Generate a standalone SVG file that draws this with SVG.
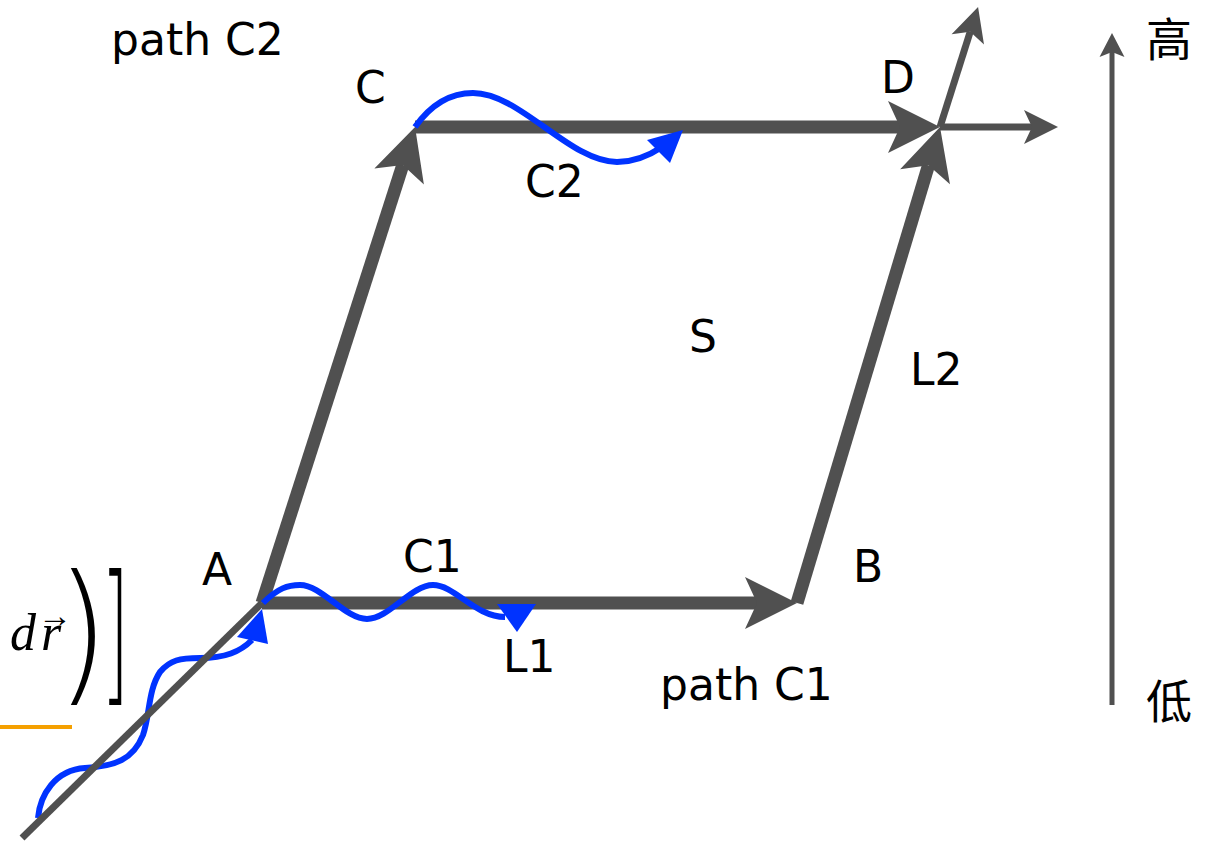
<svg xmlns="http://www.w3.org/2000/svg" width="1219" height="843" viewBox="0 0 1219 843">
<style>
.lbl{font-family:"DejaVu Sans","Liberation Sans",sans-serif;font-size:44px;fill:#000}
.cjk{font-family:"Noto Sans CJK SC","Noto Sans CJK JP",sans-serif;font-size:46px;fill:#000}
.math{font-family:"Liberation Serif",serif;fill:#000}
.delim{font-family:"DejaVu Sans",sans-serif;font-weight:200;fill:#000}
.thick{stroke:#505050;stroke-width:13;fill:none}
.thin{stroke:#505050;stroke-width:7;fill:none}
.wave{stroke:#0033ff;stroke-width:6;fill:none;stroke-linecap:butt}
.bl{fill:#0033ff}
</style>
<defs>
<marker id="ahBig" markerUnits="userSpaceOnUse" markerWidth="60" markerHeight="60" viewBox="-15 -30 60 60" refX="0" refY="0" orient="auto" overflow="visible"><path d="M40,0 L-12,-26 L0,0 L-12,26 Z" fill="#505050"/></marker>
<marker id="ahMid" markerUnits="userSpaceOnUse" markerWidth="40" markerHeight="40" viewBox="-10 -20 40 40" refX="0" refY="0" orient="auto" overflow="visible"><path d="M26,0 L-8,-17 L0,0 L-8,17 Z" fill="#505050"/></marker>
<marker id="ahSm" markerUnits="userSpaceOnUse" markerWidth="30" markerHeight="30" viewBox="-6 -15 30 30" refX="0" refY="0" orient="auto" overflow="visible"><path d="M19,0 L-5,-12.5 L0,0 L-5,12.5 Z" fill="#505050"/></marker>
</defs>

<g id="wave-in">
<path class="wave" d="M38,818 C40,795 55,770 85,768 C115,766 133,760 143,735 C150,715 148,690 160,672 C170,660 180,658 200,658 C225,658 240,652 252,640"/>
<polygon class="bl" points="237,637 268,644 262,609"/>
</g>

<g id="connectors">
<line id="in-line" class="thin" x1="22" y1="838" x2="262" y2="603"/>
<line id="L1" class="thick" x1="262" y1="603" x2="757" y2="603" marker-end="url(#ahBig)"/>
<line id="AC" class="thick" x1="262" y1="603" x2="402.8" y2="165.1" marker-end="url(#ahBig)"/>
<line id="L2" class="thick" x1="797" y1="603" x2="928.5" y2="165.3" marker-end="url(#ahBig)"/>
<line id="CD" class="thick" x1="415" y1="127" x2="900" y2="127" marker-end="url(#ahBig)"/>
<line id="out-up" class="thin" x1="940" y1="127" x2="970.2" y2="31.8" marker-end="url(#ahMid)"/>
<line id="out-right" class="thin" x1="940" y1="127" x2="1032" y2="127" marker-end="url(#ahMid)"/>
<line id="height-axis" stroke="#505050" stroke-width="5" x1="1112" y1="705" x2="1112" y2="52" marker-end="url(#ahSm)"/>
</g>

<g id="wave-C1">
<path class="wave" d="M263,603 C278,588 288,585 300,585 C322,585 345,619 367,619 C389,619 411,585 433,585 C455,585 475,617 505,617"/>
<polygon class="bl" points="497,604 536,604 517,632"/>
</g>
<g id="wave-C2">
<path class="wave" d="M415,127 C432,103 452,93 473,93 C520,93 570,162 617,162 C635,162 650,155 662,147"/>
<polygon class="bl" points="647,140 683,130 670,163"/>
</g>

<g id="orange-mark"><line x1="0" y1="727" x2="72" y2="727" stroke="#f5a000" stroke-width="4"/></g>

<g id="formula">
<text class="math" x="10" y="650" font-size="52" font-style="italic">d</text>
<text class="math" x="41" y="650" font-size="52" font-style="italic">r</text>
<text class="math" x="38" y="627" font-size="34" textLength="34" lengthAdjust="spacingAndGlyphs">→</text>
<text class="delim" font-size="154" transform="translate(56,685) scale(0.88,1)">)</text>
<text class="delim" font-size="154" transform="translate(101,685) scale(0.47,1)">]</text>
</g>

<g id="labels">
<text id="t-pathC2" class="lbl" x="111" y="55">path C2</text>
<text id="t-C" class="lbl" x="355" y="103">C</text>
<text id="t-D" class="lbl" x="881" y="93">D</text>
<text id="t-C2" class="lbl" x="525" y="197">C2</text>
<text id="t-S" class="lbl" x="689" y="352">S</text>
<text id="t-L2" class="lbl" x="910" y="385">L2</text>
<text id="t-A" class="lbl" x="202" y="585">A</text>
<text id="t-B" class="lbl" x="853" y="582">B</text>
<text id="t-C1" class="lbl" x="403" y="572">C1</text>
<text id="t-L1" class="lbl" x="503" y="672">L1</text>
<text id="t-pathC1" class="lbl" x="660" y="700">path C1</text>
<text id="t-high" class="cjk" x="1146" y="56">高</text>
<text id="t-low" class="cjk" x="1146" y="718">低</text>
</g>
</svg>
